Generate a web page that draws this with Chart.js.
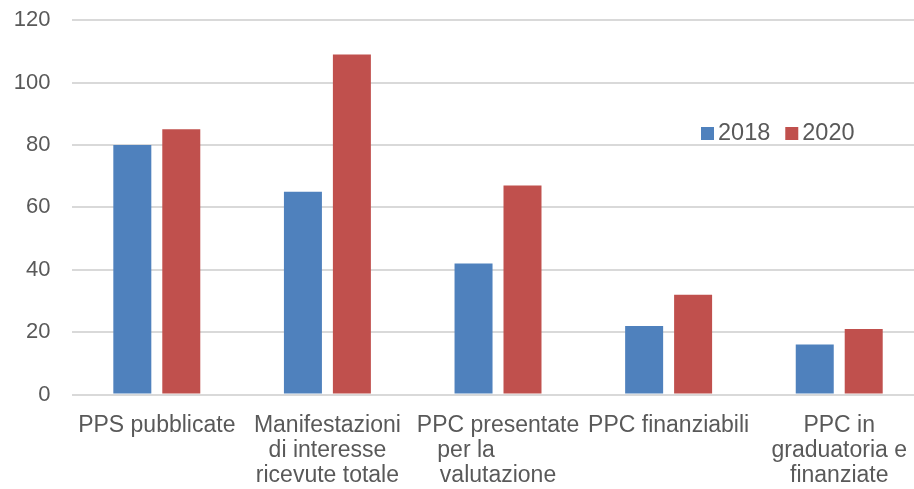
<!DOCTYPE html>
<html>
<head>
<meta charset="utf-8">
<script src="https://cdn.jsdelivr.net/npm/chart.js@4"></script>
<style>
    html, body { margin: 0; padding: 0; background: #fff; overflow: hidden; }
    #wrap { width: 926px; height: 503px; margin-top: -14px; position: relative; }
</style>
</head>
<body>
<div id="wrap"><canvas id="barChart"></canvas></div>
<script>
// dati
const categories = [
    ["PPS pubblicate"],
    ["Manifestazioni", "di interesse", "ricevute totale"],
    ["PPC presentate", "per la          ", "valutazione"],
    ["PPC finanziabili"],
    ["PPC in", "graduatoria e", "finanziate"]
];
const values2018 = [80, 65, 42, 22, 16];
const values2020 = [85, 109, 67, 32, 21];
const yTicks = [0, 20, 40, 60, 80, 100, 120];

const textColor = "#595959";
const fontFamily = "'Liberation Sans', Arial, sans-serif";

// legenda disegnata a mano dentro l'area del grafico (coordinate della pagina + 14 di offset)
const insideLegend = {
    id: "insideLegend",
    afterDraw(chart) {
        const ctx = chart.ctx;
        const y = 133 + 14;
        let x = 701;
        ctx.save();
        ctx.font = "23.5px " + fontFamily;
        ctx.textBaseline = "middle";
        ctx.textAlign = "left";
        chart.data.datasets.forEach(ds => {
            ctx.fillStyle = ds.backgroundColor;
            ctx.fillRect(x, y - 6, 13, 13);
            ctx.fillStyle = textColor;
            ctx.fillText(ds.label, x + 17, y + 1);
            x += 17 + ctx.measureText(ds.label).width + 15;
        });
        ctx.restore();
    }
};

const ctx = document.getElementById("barChart").getContext("2d");

new Chart(ctx, {
    type: "bar",
    data: {
        labels: categories,
        datasets: [
            { label: "2018", data: values2018, backgroundColor: "#4F81BD" },
            { label: "2020", data: values2020, backgroundColor: "#C0504D" }
        ]
    },
    options: {
        responsive: true,
        maintainAspectRatio: false,
        animation: false,
        categoryPercentage: 0.574,
        barPercentage: 0.776,
        layout: { padding: { top: 0, right: 0, left: 0, bottom: 0 } },
        plugins: {
            legend: { display: false },
            tooltip: { enabled: false }
        },
        scales: {
            x: {
                grid: { display: false, drawTicks: false, tickLength: 0 },
                border: { display: false },
                ticks: {
                    color: textColor,
                    padding: 19,
                    maxRotation: 0,
                    autoSkip: false,
                    font: { family: fontFamily, size: 23, lineHeight: 1.08 }
                },
                afterFit(scale) { scale.height = 94.5; }
            },
            y: {
                min: 0,
                max: 120,
                afterBuildTicks(scale) { scale.ticks = yTicks.map(v => ({ value: v })); },
                grid: { color: "#d9d9d9", lineWidth: 2, drawTicks: false, tickLength: 0 },
                border: { display: false },
                ticks: {
                    color: textColor,
                    padding: 21,
                    font: { family: fontFamily, size: 22 }
                },
                afterFit(scale) { scale.width = 71.5; }
            }
        }
    },
    plugins: [insideLegend]
});
</script>
</body>
</html>
